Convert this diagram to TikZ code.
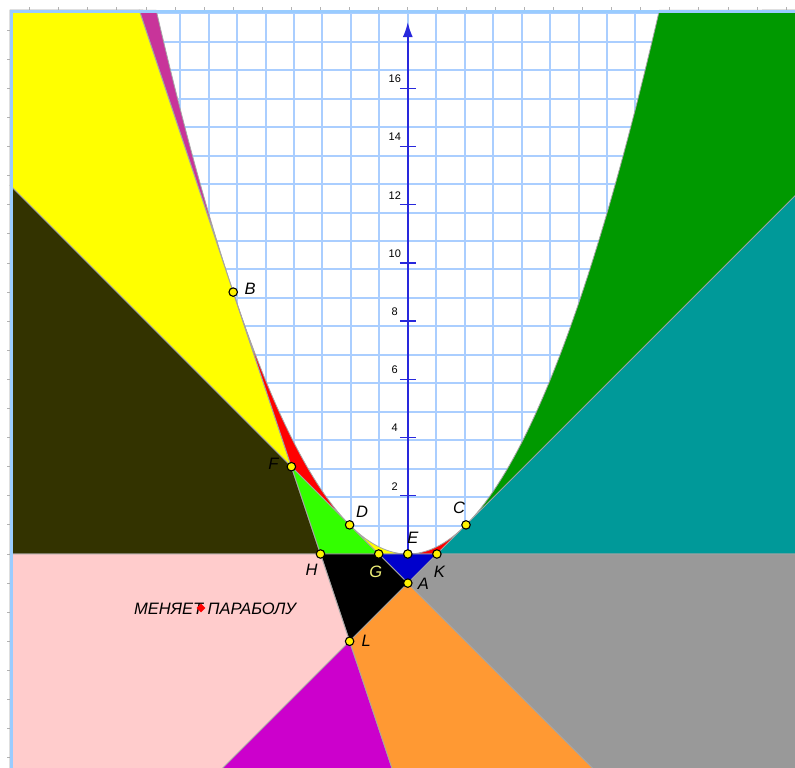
\documentclass[tikz,border=0pt]{standalone}
\usepackage{fontspec}
\setmainfont{Liberation Sans}
\usetikzlibrary{arrows.meta,shapes.geometric}
\definecolor{gridblue}{RGB}{170,206,255}
\definecolor{frameblue}{RGB}{153,204,255}
\definecolor{axisblue}{RGB}{40,40,220}
\definecolor{edgegray}{RGB}{165,165,165}
\definecolor{fillMag}{RGB}{200,52,154}
\definecolor{fillYel}{RGB}{255,255,0}
\definecolor{fillRed}{RGB}{255,0,0}
\definecolor{fillOli}{RGB}{51,51,0}
\definecolor{fillLime}{RGB}{51,255,0}
\definecolor{fillDGreen}{RGB}{0,153,0}
\definecolor{fillTeal}{RGB}{0,153,153}
\definecolor{fillBlue}{RGB}{0,0,204}
\definecolor{fillPink}{RGB}{255,204,204}
\definecolor{fillPurp}{RGB}{204,0,204}
\definecolor{fillOrange}{RGB}{255,153,51}
\definecolor{fillGray}{RGB}{153,153,153}
\definecolor{glabel}{RGB}{240,240,120}
\tikzset{
region/.style={draw=edgegray,line width=0.8pt,line join=round},
gridline/.style={gridblue,line width=2pt},
axisline/.style={axisblue,line width=1.6pt},
marktick/.style={black!30,line width=0.8pt},
pt/.style={circle,draw=black,fill=yellow,line width=1.1pt,minimum size=8.5pt,inner sep=0pt},
ptlab/.style={font=\fontsize{16.5}{18}\selectfont\itshape,inner sep=0pt},
numlab/.style={font=\fontsize{11}{13}\selectfont,inner sep=0pt},
msglab/.style={font=\fontsize{16.5}{18}\selectfont\itshape,inner sep=0pt},
parab/.style={samples=50}
}

\begin{document}
\begin{tikzpicture}[x=29.1pt,y=29.1pt]
\useasboundingbox (-14.014,-7.32) rectangle (13.306,19.038);
\fill[white] (-14.014,-7.32) rectangle (13.306,19.038);

% points of the construction
\coordinate (A) at (0,-1);
\coordinate (B) at (-6,9);
\coordinate (C) at (2,1);
\coordinate (D) at (-2,1);
\coordinate (E) at (0,0);
\coordinate (F) at (-4,3);
\coordinate (G) at (-1,0);
\coordinate (H) at (-3,0);
\coordinate (K) at (1,0);
\coordinate (L) at (-2,-3);
% where the lines leave the frame
\coordinate (TL) at (-13.67,18.69);
\coordinate (TR) at (13.4,18.69);
\coordinate (BL) at (-13.67,-7.4);
\coordinate (BR) at (13.4,-7.4);
\coordinate (lD) at (-13.67,12.67);
\coordinate (lX) at (-13.67,0);
\coordinate (rX) at (13.4,0);
\coordinate (rC) at (13.4,12.4);
\coordinate (tB) at (-9.23,18.69);
\coordinate (bB) at (-0.533,-7.4);
\coordinate (bD) at (6.4,-7.4);
\coordinate (bC) at (-6.4,-7.4);

% grid and axis
\begin{scope}
\clip (TL) rectangle (BR);
\draw[gridline] (-14,-8) grid (14,19);
\end{scope}
\foreach \k in {-7,...,18} \draw[marktick] (-13.77,\k) -- (-13.67,\k);
\foreach \k in {-13,...,13} \draw[marktick] (\k,18.79) -- (\k,18.69);
\draw[axisline,-{Latex[length=15pt,width=10pt]}] (0,-7.32) -- (0,18.28);
\foreach \y in {2,4,...,16} {
\draw[axisblue,line width=1.4pt] (-0.275,\y) -- (0.275,\y);
\node[numlab,xshift=-13pt,yshift=9.5pt] at (0,\y) {\y};
}

% regions
\filldraw[region,fill=fillMag] (tB) -- (B) -- plot[parab,domain=-6:-8.646] (\x,{\x*\x/4}) -- cycle;
\filldraw[region,fill=fillYel] (TL) -- (tB) -- (B) -- (F) -- (lD) -- cycle;
\filldraw[region,fill=fillRed] (B) -- (F) -- (D) -- plot[parab,domain=-2:-6] (\x,{\x*\x/4}) -- cycle;
\filldraw[region,fill=fillOli] (lD) -- (F) -- (H) -- (lX) -- cycle;
\filldraw[region,fill=fillLime] (F) -- (H) -- (G) -- cycle;
\filldraw[region,fill=fillYel] (D) -- (G) -- (E) -- plot[parab,domain=0:-2] (\x,{\x*\x/4}) -- cycle;
\filldraw[region,fill=fillRed] (E) -- (K) -- (C) -- plot[parab,domain=2:0] (\x,{\x*\x/4}) -- cycle;
\filldraw[region,fill=fillDGreen] (C) -- plot[parab,domain=2:8.646] (\x,{\x*\x/4}) -- (TR) -- (rC) -- cycle;
\filldraw[region,fill=fillTeal] (K) -- (rX) -- (rC) -- (C) -- cycle;
\filldraw[region,fill=fillBlue] (G) -- (K) -- (A) -- cycle;
\filldraw[region,fill=black] (H) -- (G) -- (A) -- (L) -- cycle;
\filldraw[region,fill=fillPink] (lX) -- (H) -- (L) -- (bC) -- (BL) -- cycle;
\filldraw[region,fill=fillPurp] (L) -- (bC) -- (bB) -- cycle;
\filldraw[region,fill=fillOrange] (L) -- (A) -- (bD) -- (bB) -- cycle;
\filldraw[region,fill=fillGray] (A) -- (K) -- (rX) -- (BR) -- (bD) -- cycle;

% frame
\draw[frameblue,line width=3pt] (-13.619,-7.4) -- (-13.619,18.643) -- (13.4,18.643);

% text with its switch
\node[msglab] (msg) at (-6.625,-1.89) {МЕНЯЕТ ПАРАБОЛУ};
\node[diamond,fill=red,minimum size=9pt,inner sep=0pt] (knob) at (-7.107,-1.856) {};

% points and labels
\foreach \p in {A,B,C,D,E,F,G,H,K,L} \node[pt] (p\p) at (\p) {};
\node[ptlab] (lA) at ([shift={(15.6pt,-0.7pt)}]A) {A};
\node[ptlab] (lB) at ([shift={(17pt,3.5pt)}]B) {B};
\node[ptlab] (lC) at ([shift={(-7pt,17pt)}]C) {C};
\node[ptlab] (lD) at ([shift={(12.5pt,13.5pt)}]D) {D};
\node[ptlab] (lE) at ([shift={(5pt,16.5pt)}]E) {E};
\node[ptlab] (lF) at ([shift={(-18pt,2.5pt)}]F) {F};
\node[ptlab,text=glabel] (lG) at ([shift={(-3pt,-18pt)}]G) {G};
\node[ptlab] (lH) at ([shift={(-9pt,-15.7pt)}]H) {H};
\node[ptlab] (lK) at ([shift={(2.6pt,-17.4pt)}]K) {K};
\node[ptlab] (lL) at ([shift={(16.7pt,0pt)}]L) {L};
\end{tikzpicture}
\end{document}
